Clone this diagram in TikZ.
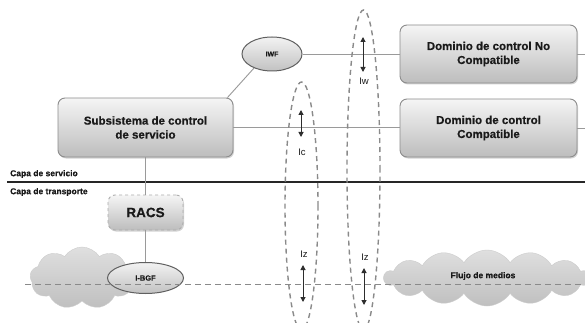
\documentclass[tikz,border=0pt]{standalone}
\usepackage{fontspec}
\setmainfont[BoldFeatures={FakeBold=0.6}]{Liberation Sans}
\usetikzlibrary{shapes.geometric,shapes.symbols,shadows,arrows.meta,calc}
\definecolor{txt}{HTML}{1A1A1A}
\definecolor{edgecol}{HTML}{8C8C8C}
\definecolor{conncol}{HTML}{9A9A9A}
\definecolor{dashcol}{HTML}{8A8A8A}
\tikzset{
  box/.style={draw=edgecol, line width=0.9pt, rounded corners=7pt, top color=gray!8, bottom color=gray!52,
    drop shadow={shadow xshift=1pt, shadow yshift=-1.5pt, opacity=0.35}, text=txt,
    font=\bfseries\fontsize{11.5}{14}\selectfont, align=center, inner sep=2pt},
  oval/.style={ellipse, draw=gray!75!black, line width=1pt, top color=gray!10, bottom color=gray!48,
    text=txt, inner sep=0pt},
  cloudy/.style={cloud, cloud puff arc=115, draw=gray!40, top color=gray!25, bottom color=gray!50,
    inner sep=0pt, text=txt},
  connline/.style={draw=conncol, line width=0.9pt},
  ring/.style={ellipse, draw=dashcol, line width=1.4pt, dash pattern=on 5pt off 4pt, inner sep=0pt},
  dbl/.style={draw=gray!35!black, line width=1pt, {Triangle[length=5pt,width=5pt]}-{Triangle[length=5pt,width=5pt]}},
  lbl/.style={font=\fontsize{9.5}{11}\selectfont, text=txt, inner sep=1pt},
  layer/.style={font=\bfseries\fontsize{8.5}{10}\selectfont, text=txt, anchor=west, inner sep=0pt}
}
\begin{document}
\begin{tikzpicture}[x=1pt,y=-1pt]
\useasboundingbox (0,0) rectangle (585,323);
\clip (0,0) rectangle (585,323);
\fill[white] (0,0) rectangle (585,323);
% clouds
\node[cloudy, cloud puffs=9, aspect=1.7, minimum width=104pt, minimum height=62pt] (cl) at (82,278) {};
\node[cloudy, cloud puffs=14, aspect=3.5, minimum width=206pt, minimum height=56pt] (cr) at (487,278) {};
\node[font=\bfseries\fontsize{8.5}{10}\selectfont, text=txt] (flujo) at (483,276) {Flujo de medios};
% layer line
\coordinate (ll) at (7,182);
\coordinate (lr) at (585,182);
\draw[draw=gray!30!black, line width=2.6pt] (ll) -- (lr);
\node[layer] (cs) at (10,174) {Capa de servicio};
\node[layer] (ct) at (10,192) {Capa de transporte};
% boxes
\node[box, minimum width=175pt, minimum height=59pt] (sub) at (145.5,127.5) {Subsistema de control\\de servicio};
\node[box, minimum width=177pt, minimum height=58pt] (dnc) at (488.5,54) {Dominio de control No\\Compatible};
\node[box, minimum width=177pt, minimum height=58pt] (dc) at (488.5,128) {Dominio de control\\Compatible};
\node[box, dashed, draw=gray!65, minimum width=75pt, minimum height=35pt, font=\bfseries\fontsize{13.5}{15}\selectfont] (racs) at (145.5,212.5) {RACS};
\node[oval, minimum width=60pt, minimum height=34pt, font=\bfseries\fontsize{7}{8}\selectfont] (iwf) at (272,54) {IWF};
% connectors
\coordinate (er1) at (585,54);
\coordinate (er2) at (585,128);
\draw[connline] (iwf.east) -- (dnc.west);
\draw[connline] (dnc.east) -- (er1);
\draw[connline] (sub.east) -- (sub.east -| dc.west);
\draw[connline] (dc.east) -- (er2);
\draw[connline] (iwf.218) -- ($(sub.north east)+(-6,0)$);
\draw[connline] (sub.south) -- (racs.north);
\node[oval, minimum width=76pt, minimum height=31pt, font=\bfseries\fontsize{7.5}{9}\selectfont] (ibgf) at (145.5,278) {I-BGF};
\draw[connline] (racs.south) -- (ibgf.north);
% dashed media line
\coordinate (dl) at (25,284);
\coordinate (dr) at (585,284);
\draw[draw=dashcol, line width=1pt, dash pattern=on 6pt off 4pt] (dl) -- (dr);
% reference point rings
\node[ring, minimum width=33pt, minimum height=248pt] (ric) at (301.5,206) {};
\node[ring, minimum width=33pt, minimum height=320pt] (riw) at (363.5,170) {};
% arrows and labels
\coordinate (ic1) at (301,110); \coordinate (ic2) at (301,137);
\coordinate (iw1) at (363,37);  \coordinate (iw2) at (363,72);
\coordinate (iz1) at (303,265); \coordinate (iz2) at (303,302);
\coordinate (iz3) at (364,268); \coordinate (iz4) at (364,305);
\draw[dbl] (ic1) -- (ic2);
\draw[dbl] (iw1) -- (iw2);
\draw[dbl] (iz1) -- (iz2);
\draw[dbl] (iz3) -- (iz4);
\node[lbl] (lic) at (302,152) {Ic};
\node[lbl] (liw) at (364,81) {Iw};
\node[lbl] (liz1) at (304,254) {Iz};
\node[lbl] (liz2) at (365,257) {Iz};
\end{tikzpicture}
\end{document}
